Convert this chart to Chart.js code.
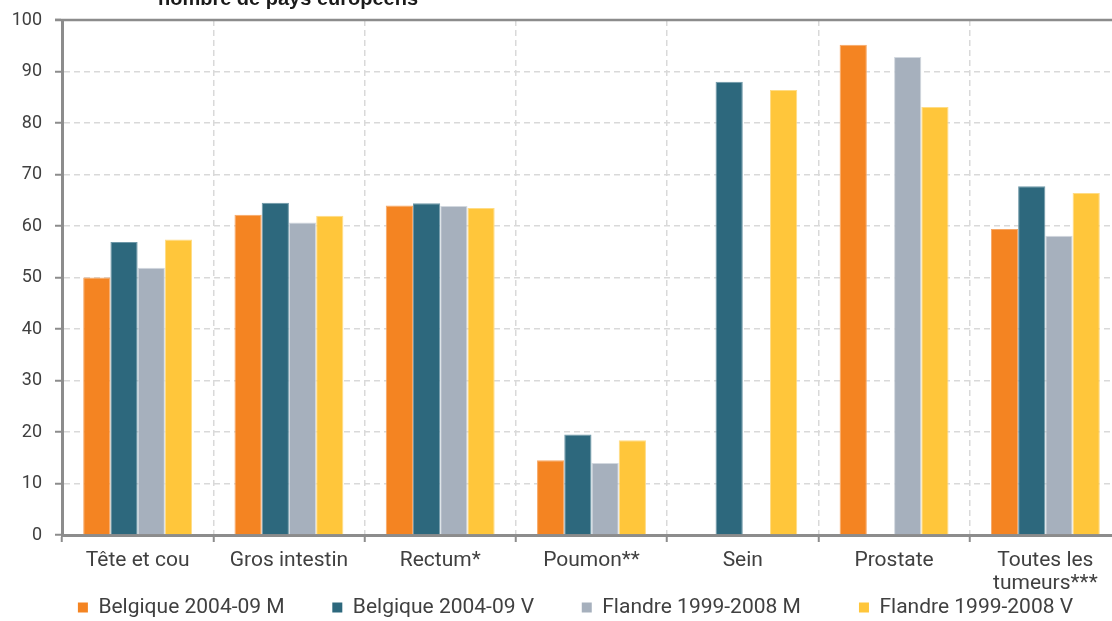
<!DOCTYPE html>
<html>
<head>
<meta charset="utf-8">
<script src="https://cdn.jsdelivr.net/npm/chart.js@4.4.1/dist/chart.umd.min.js"></script>
<style>
  html, body { margin: 0; padding: 0; background: #fff; overflow: hidden; width: 1112px; height: 621px; }
  #wrap { position: absolute; left: 0; top: 0; width: 1124px; height: 628px; }
  #title { position: absolute; left: 88px; width: 400px; top: -12px; text-align: center;
           font: bold 20px "Liberation Sans", Arial, sans-serif; line-height: 20px; color: #1a1a1a; white-space: nowrap; }
</style>
</head>
<body>
<div id="wrap"><canvas id="c" width="1124" height="628"></canvas></div>
<div id="title">nombre de pays européens</div>
<script>
const categories = ["Tête et cou", "Gros intestin", "Rectum*", "Poumon**", "Sein", "Prostate", ["Toutes les", "tumeurs***"]];
const seriesNames = ["Belgique 2004-09 M", "Belgique 2004-09 V", "Flandre 1999-2008 M", "Flandre 1999-2008 V"];
const belgiqueM = [50.0, 62.2, 64.0, 14.5, null, 95.2, 59.4];
const belgiqueV = [56.9, 64.5, 64.4, 19.5, 88.0, null, 67.7];
const flandreM  = [51.9, 60.7, 63.9, 14.0, null, 92.8, 58.1];
const flandreV  = [57.4, 62.0, 63.5, 18.4, 86.4, 83.1, 66.4];
const yTicks = [0, 10, 20, 30, 40, 50, 60, 70, 80, 90, 100];

const colors = ["#F48422", "#2D687D", "#A6B0BD", "#FFC63B"];
const edges  = ["#F7A766", "#6E98A8", "#D2D8DF", "#FFDC85"];
const seriesValues = [belgiqueM, belgiqueV, flandreM, flandreV];
const legendTrail = [8, 8, 10, 0];

const topLine = {
  id: 'topLine',
  afterLayout(chart) {
    if (chart.legend) { chart.legend.left += 30; }
  },
  afterDraw(chart) {
    const {ctx, chartArea} = chart;
    ctx.save();
    ctx.strokeStyle = '#8C8C8C';
    ctx.lineWidth = 2.5;
    ctx.beginPath();
    ctx.moveTo(chartArea.left - 7, chartArea.top);
    ctx.lineTo(chartArea.right, chartArea.top);
    ctx.stroke();
    ctx.restore();
  }
};

new Chart(document.getElementById('c'), {
  type: 'bar',
  data: {
    labels: categories,
    datasets: seriesNames.map((name, i) => ({
      label: name,
      data: seriesValues[i],
      backgroundColor: colors[i],
      borderColor: edges[i],
      borderWidth: 1,
      barPercentage: 1.0,
      categoryPercentage: 0.72
    }))
  },
  options: {
    responsive: false,
    animation: false,
    layout: { padding: { left: 0, right: 3, top: 20, bottom: 0 } },
    plugins: {
      title: { display: false },
      tooltip: { enabled: false },
      legend: {
        position: 'bottom',
        labels: {
          font: { family: 'Roboto', size: 21 },
          color: '#404040',
          boxWidth: 10,
          boxHeight: 10,
          padding: 6,
          generateLabels(chart) {
            const items = Chart.defaults.plugins.legend.labels.generateLabels(chart);
            items.forEach((it, i) => {
              it.lineWidth = 0;
              it.text = it.text + '\u00a0'.repeat(legendTrail[i]);
            });
            return items;
          }
        }
      }
    },
    scales: {
      x: {
        grid: {
          offset: true,
          color: (ctx) => ctx.index === 0 ? 'rgba(0,0,0,0)' : '#D9D9D9',
          lineWidth: 1.5,
          tickColor: '#8C8C8C',
          tickLength: 7,
          tickWidth: 2,
          tickBorderDash: []
        },
        border: { color: '#8C8C8C', width: 3, dash: [6, 4] },
        ticks: {
          font: { family: 'Roboto', size: 21, lineHeight: 1.1 },
          color: '#404040',
          padding: 7,
          maxRotation: 0,
          autoSkip: false
        },
        afterFit(scale) { scale.height = 56; }
      },
      y: {
        min: 0,
        max: 100,
        afterBuildTicks(scale) { scale.ticks = yTicks.map(v => ({ value: v })); },
        grid: {
          color: (ctx) => (ctx.tick && (ctx.tick.value === 0 || ctx.tick.value === 100)) ? 'rgba(0,0,0,0)' : '#D9D9D9',
          lineWidth: 1.5,
          tickColor: '#8C8C8C',
          tickLength: 7,
          tickWidth: 2,
          tickBorderDash: []
        },
        border: { color: '#8C8C8C', width: 3, dash: [6, 4] },
        ticks: {
          font: { family: 'Roboto', size: 18 },
          color: '#404040',
          padding: 13
        },
        afterFit(scale) { scale.width = 62; scale.paddingTop = 0; scale.paddingBottom = 0; }
      }
    }
  },
  plugins: [topLine]
});
</script>
</body>
</html>
